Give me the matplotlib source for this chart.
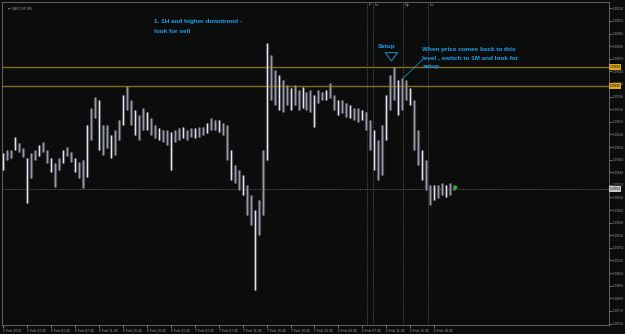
import matplotlib
matplotlib.use("Agg")
import matplotlib.pyplot as plt

# GBPCHF M5 - bar highs and lows, one column every 8 bars
bar_high = [1.29526, 1.29540, 1.29540, 1.29602, 1.29573, 1.29550, 1.29502, 1.29526, 1.29540, 1.29564,
            1.29578, 1.29540, 1.29502, 1.29478, 1.29502, 1.29540, 1.29554, 1.29531, 1.29502, 1.29483,
            1.29492, 1.29659, 1.29740, 1.29792, 1.29778, 1.29659, 1.29659, 1.29611, 1.29635, 1.29683,
            1.29802, 1.29845, 1.29778, 1.29730, 1.29707, 1.29740, 1.29721, 1.29692, 1.29659, 1.29645,
            1.29635, 1.29635, 1.29626, 1.29635, 1.29645, 1.29650, 1.29635, 1.29645, 1.29645, 1.29650,
            1.29650, 1.29669, 1.29692, 1.29683, 1.29683, 1.29669, 1.29659, 1.29540, 1.29469, 1.29445,
            1.29421, 1.29373, 1.29326, 1.29254, 1.29302, 1.29540, 1.30049, 1.29992, 1.29921, 1.29897,
            1.29873, 1.29849, 1.29835, 1.29849, 1.29826, 1.29840, 1.29816, 1.29826, 1.29802, 1.29826,
            1.29816, 1.29826, 1.29859, 1.29802, 1.29778, 1.29778, 1.29764, 1.29754, 1.29740, 1.29740,
            1.29730, 1.29721, 1.29683, 1.29635, 1.29588, 1.29659, 1.29802, 1.29897, 1.29935, 1.29873,
            1.29883, 1.29873, 1.29835, 1.29778, 1.29635, 1.29540, 1.29492, 1.29373, 1.29373, 1.29373,
            1.29383, 1.29373, 1.29383, 1.29373]
bar_low = [1.29445, 1.29492, 1.29502, 1.29540, 1.29531, 1.29507, 1.29288, 1.29407, 1.29492, 1.29511,
           1.29531, 1.29478, 1.29435, 1.29364, 1.29445, 1.29478, 1.29511, 1.29483, 1.29435, 1.29407,
           1.29359, 1.29412, 1.29588, 1.29692, 1.29540, 1.29516, 1.29550, 1.29502, 1.29516, 1.29588,
           1.29659, 1.29730, 1.29659, 1.29611, 1.29588, 1.29635, 1.29635, 1.29611, 1.29597, 1.29588,
           1.29578, 1.29564, 1.29445, 1.29578, 1.29588, 1.29597, 1.29588, 1.29602, 1.29597, 1.29602,
           1.29611, 1.29621, 1.29635, 1.29635, 1.29626, 1.29611, 1.29492, 1.29397, 1.29383, 1.29350,
           1.29326, 1.29231, 1.29183, 1.28874, 1.29135, 1.29231, 1.29492, 1.29778, 1.29754, 1.29730,
           1.29721, 1.29754, 1.29730, 1.29754, 1.29730, 1.29740, 1.29730, 1.29721, 1.29650, 1.29764,
           1.29778, 1.29778, 1.29788, 1.29730, 1.29707, 1.29716, 1.29697, 1.29692, 1.29683, 1.29673,
           1.29683, 1.29635, 1.29540, 1.29445, 1.29397, 1.29421, 1.29588, 1.29730, 1.29778, 1.29707,
           1.29730, 1.29778, 1.29754, 1.29540, 1.29469, 1.29397, 1.29350, 1.29278, 1.29302, 1.29312,
           1.29326, 1.29316, 1.29326, 1.29350]
bar_step = 8

price_ticks = [1.30214, 1.30154, 1.30094, 1.30034, 1.29974, 1.29914, 1.29854, 1.29794, 1.29734,
               1.29674, 1.29614, 1.29554, 1.29494, 1.29434, 1.29374, 1.29314, 1.29254, 1.29194,
               1.29134, 1.29074, 1.29014, 1.28954, 1.28894, 1.28834, 1.28774, 1.28714]
time_labels = ["5 Feb 2019", "5 Feb 23:45", "6 Feb 03:45", "6 Feb 07:45", "6 Feb 11:45",
               "6 Feb 15:45", "6 Feb 19:45", "6 Feb 23:45", "7 Feb 03:45", "7 Feb 07:45",
               "7 Feb 11:45", "7 Feb 15:45", "7 Feb 19:45", "7 Feb 23:45", "8 Feb 03:45",
               "8 Feb 07:45", "8 Feb 11:45", "8 Feb 15:45", "8 Feb 19:45"]
time_step = 48

level_hi = 1.29934
level_lo = 1.29845
bid = 1.29354
sessions = [(730, "F"), (742, "Lo"), (802, "Ny"), (852, "Lo")]
last_bar = 906
last_price = 1.29364

bg = "#0a0d0b"
blue = "#1ea0f0"
gold = "#8a6a1c"
small = ["Liberation Sans", "DejaVu Sans"]

fig = plt.figure(figsize=(6.25, 3.34), dpi=100, facecolor=bg)
ax = fig.add_axes([2 / 625, 9 / 334, 607 / 625, 323 / 334], facecolor=bg)

xs = [i * bar_step for i in range(len(bar_high))]
# dark body for each column, then a thin lighter stroke on top
ax.vlines(xs, bar_low, bar_high, colors="#4c4c56", lw=2.3, zorder=2)
cols = ["#e6e6ee" if i % 3 == 0 else "#9a9aa6" for i in range(len(xs))]
ax.vlines(xs, bar_low, bar_high, colors=cols, lw=0.8, zorder=3)

ax.axhline(level_hi, color=gold, lw=1.0, zorder=2)
ax.axhline(level_lo, color=gold, lw=1.0, zorder=2)
ax.axhline(bid, color="#6a6a6a", lw=0.6, ls=(0, (1.5, 1.5)), zorder=1)
for x, name in sessions:
    ax.axvline(x, color="#5a5a5a", lw=0.6, ls=(0, (1.5, 1.5)), zorder=1)
    ax.text(x + 3, 1.30232, name, color="#a0a0a0", fontsize=2.8, va="center", ha="left",
            family=small)
ax.plot([last_bar], [last_price], "o", color="#20c020", ms=1.6, zorder=4)

ax.set_xlim(-2, 1214)
ax.set_ylim(1.28707, 1.30244)

# right price scale
ax.yaxis.tick_right()
ax.set_yticks(price_ticks)
ax.set_yticklabels([f"{p:.5f}" for p in price_ticks], family=small)
ax.tick_params(axis="y", colors="#9a9a9a", labelsize=2.2, length=2, width=0.5, pad=1)
ax.set_xticks([k * time_step for k in range(len(time_labels))])
ax.set_xticklabels(time_labels, ha="left", family=small)
ax.tick_params(axis="x", colors="#9a9a9a", labelsize=2.5, length=2, width=0.5, pad=1)
for s in ax.spines.values():
    s.set_color("#707070")
    s.set_linewidth(0.6)

ytr = ax.get_yaxis_transform()
for lv, fc in [(level_hi, "#e0a820"), (level_lo, "#e0a820"), (bid, "#c8c8c8")]:
    ax.text(1.0015, lv, f"{lv:.5f}", transform=ytr, fontsize=2.2, color="black", family=small,
            va="center", ha="left", bbox=dict(fc=fc, ec="none", pad=0.5), zorder=5)

ax.text(0.01, 0.985, "\u25be GBPCHF,M5", transform=ax.transAxes, fontsize=2.6,
        color="#9a9a9a", va="top", ha="left")

# annotations
font = dict(family=small, weight="bold", fontsize=4.6, color=blue)
ax.text(302, 1.30149, "1. 1H and higher downtrend -", va="center", ha="left", **font)
ax.text(302, 1.30106, "look for sell", va="center", ha="left", **font)
ax.text(768, 1.30030, "Setup", va="center", ha="center", **font)
ax.annotate("", xy=(778, 1.29950), xytext=(778, 1.29992),
            arrowprops=dict(arrowstyle="simple,head_width=0.9,head_length=0.6,tail_width=0.45",
                            fc=bg, ec=blue, lw=0.6))
ax.text(840, 1.30016, "When price comes back to this", va="center", ha="left", **font)
ax.text(840, 1.29978, "level , switch to 1M and look for", va="center", ha="left", **font)
ax.text(840, 1.29935, "setup", va="center", ha="left", **font)
ax.plot([802, 840], [1.29883, 1.29968], color=blue, lw=0.5, zorder=4)

fig.savefig("out.png", dpi=100, facecolor=bg)
